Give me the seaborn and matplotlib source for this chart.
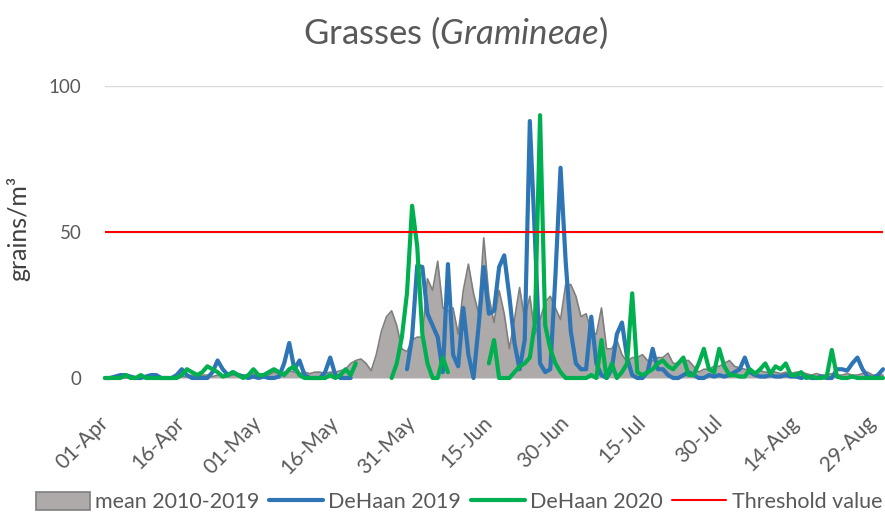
import numpy as np
import pandas as pd
import matplotlib
matplotlib.use("Agg")
import matplotlib.pyplot as plt
from matplotlib.patches import Patch
from matplotlib.lines import Line2D
import seaborn as sns

# daily pollen counts, 01-Apr .. 31-Aug (153 days); nan = no data
mean_2010_2019 = [
    0, 0, 0, 0, 0, 0, 0, 0, 0, 0.5,
    0, 0, 0, 0, 0.5, 0.5, 0.5, 1, 0.5, 1,
    1, 0.5, 1, 1, 0.5, 1, 1.5, 1, 1, 1.5,
    1, 1.5, 1, 2, 1.5, 2, 2.5, 2, 1.5, 2,
    1.5, 2, 2, 1.5, 2, 2, 2.5, 3, 5, 6,
    6.5, 5, 2.5, 8, 16, 21, 23, 18, 10, 9,
    13, 14, 14, 34, 30, 40, 24, 23, 24, 15,
    30, 39, 29, 22, 48, 28, 19, 30, 22, 10,
    20, 31, 20, 28, 15, 20, 26, 28, 24, 20,
    32, 32, 28, 21, 22, 16, 15, 24, 10, 10,
    13, 8, 5.5, 7, 7, 8, 6, 6, 7, 7,
    8.5, 5, 5, 6, 6, 4, 2, 3, 3, 4,
    4, 5, 6, 4, 3.5, 3, 2.5, 2, 2.5, 2,
    2, 2, 1.5, 2, 1.5, 2, 2, 1.5, 1, 1.5,
    1, 1, 1.5, 1, 1, 1.5, 1, 1, 1.5, 2,
    1, 1, 1,
]
nan = np.nan
dehaan_2019 = [
    0, 0, 0.5, 1, 1, 0.5, 0, 0, 0.5, 1,
    1, 0, 0, 0, 1, 3, 1, 0, 0, 0,
    0, 2, 6, 3, 1, 2, 1, 0.5, 0, 0.5,
    0, 0.5, 0, 0, 0.5, 5, 12, 3, 6, 1,
    0, 0, 0, 2, 7, 1, 0, 0, 0, nan,
    nan, nan, nan, nan, nan, nan, nan, nan, nan, 3,
    14, 38.5, 38, 22, 18, 14, 2, 39, 8, 4,
    24, 8, 0, 18, 38, 22, 23, 38, 42, 28,
    12, 3, 13, 88, 48, 5, 2, 3, 35, 72,
    40, 16, 5, 3, 3, 21, 5, 1, 0, 3,
    15, 19, 7, 1, 0, 0, 2, 10, 3, 3,
    1, 0, 0, 1, 2, 1, 0, 0, 1, 0.5,
    1, 0.5, 1, 2, 3, 7, 2, 1, 0.5, 0.5,
    1, 0.5, 0.5, 1, 0.5, 0.5, 0, 0.5, 0, 0,
    0.5, 0, 0, 3, 3, 2.5, 5, 7, 3, 0.5,
    0, 1, 3,
]
dehaan_2020 = [
    0, 0, 0, 0, 1, 0, 0, 1, 0, 0,
    0, 0, 0, 0, 0, 1, 3, 2, 1, 2,
    4, 3, 2, 0.5, 1, 2, 1, 0, 1, 3,
    1, 1, 2, 3, 2, 1, 3, 4, 1, 0,
    0, 0, 0, 0, 1, 0, 1, 3, 1, 5,
    nan, nan, nan, nan, nan, nan, 0, 5, 14, 29,
    59, 45, 15, 5, 0, 0, 7, 2, nan, nan,
    nan, nan, nan, nan, nan, 5, 13, 0, 0, 0,
    2, 4, 5, 7, 19, 90, 18, 10, 5, 2,
    0, 0, 0, 0, 0, 1, 0, 13, 0, 5,
    0, 2, 5, 29, 2, 1, 2, 3, 5, 6,
    4, 3, 5, 7, 1, 1, 5, 10, 3, 2,
    10, 4, 1, 1, 0.5, 0.5, 3, 1.5, 3, 5,
    1.5, 4, 3, 5, 1, 1, 2, 0, 0.5, 0,
    0, 0.5, 9.6, 0.5, 0, 0, 0.5, 0, 0, 0,
    0, 0, 0,
]
threshold = 50
tick_labels = ["01-Apr", "16-Apr", "01-May", "16-May", "31-May", "15-Jun",
               "30-Jun", "15-Jul", "30-Jul", "14-Aug", "29-Aug"]
y_ticks = [0, 50, 100]

GREY_FILL = "#AEAAAA"
GREY_EDGE = "#7F7F7F"
BLUE = "#2E75B6"
GREEN = "#00B050"
RED = "#FF0000"
TXT = "#595959"

sns.set_theme(style="white")
plt.rcParams["font.family"] = ["Lato", "DejaVu Sans"]
plt.rcParams["mathtext.fontset"] = "custom"
plt.rcParams["mathtext.rm"] = "Lato"
plt.rcParams["mathtext.it"] = "Lato:italic"

dates = pd.date_range("2020-04-01", "2020-08-31", freq="D")
days = np.arange(len(dates))


def draw_line(ax, values, color, lw):
    """Plot a series with gaps: every run between nans is its own unit."""
    s = pd.Series(values, dtype=float)
    df = pd.DataFrame({"day": days, "val": s, "seg": s.isna().cumsum()}).dropna()
    sns.lineplot(data=df, x="day", y="val", units="seg", estimator=None,
                 color=color, lw=lw, ax=ax, legend=False, clip_on=False,
                 solid_joinstyle="round")


fig = plt.figure(figsize=(8.85, 5.13), dpi=100)
ax = fig.add_axes([105 / 885, 135 / 513, 778 / 885, 292 / 513])

for y in y_ticks:
    ax.axhline(y, color="#D9D9D9", lw=1, zorder=0)

ax.fill_between(days, mean_2010_2019, color=GREY_FILL, lw=0, zorder=1)
draw_line(ax, mean_2010_2019, GREY_EDGE, 1.2)
draw_line(ax, dehaan_2019, BLUE, 3.0)
draw_line(ax, dehaan_2020, GREEN, 3.0)
ax.axhline(threshold, color=RED, lw=1.5, zorder=5)

ax.set_xlim(0, len(days) - 1)
ax.set_ylim(0, 100)
ax.set_xticks(days[::15])
ax.set_xticklabels(tick_labels, rotation=45, ha="right", va="center",
                   rotation_mode="anchor")
ax.set_yticks(y_ticks)
ax.tick_params(axis="x", length=0, pad=30, labelsize=15, labelcolor=TXT)
ax.tick_params(axis="y", length=0, pad=17, labelsize=13.5, labelcolor=TXT)
ax.set_xlabel("")
ax.set_ylabel("")
sns.despine(ax=ax, left=True, bottom=True)

fig.text(455 / 885, 1 - 33 / 513, r"Grasses ($\mathit{Gramineae}$)",
         ha="center", va="center", fontsize=25, color=TXT)
fig.text(18 / 885, 1 - 228 / 513, "grains/m³", rotation=90,
         ha="center", va="center", fontsize=18, color="#404040")

handles = [
    Patch(facecolor=GREY_FILL, edgecolor=GREY_EDGE, lw=1.2),
    Line2D([], [], color=BLUE, lw=3.0),
    Line2D([], [], color=GREEN, lw=3.0),
    Line2D([], [], color=RED, lw=1.5),
]
labels = ["mean 2010-2019", "DeHaan 2019", "DeHaan 2020", "Threshold value"]
fig.legend(handles, labels, ncol=4, loc="center",
           bbox_to_anchor=(459 / 885, 1 - 502 / 513), frameon=False,
           fontsize=15.5, labelcolor=TXT, handlelength=2.5, handleheight=0.9,
           handletextpad=0.25, columnspacing=0.45, borderpad=0.1,
           borderaxespad=0)

fig.savefig("out.png", dpi=100)
